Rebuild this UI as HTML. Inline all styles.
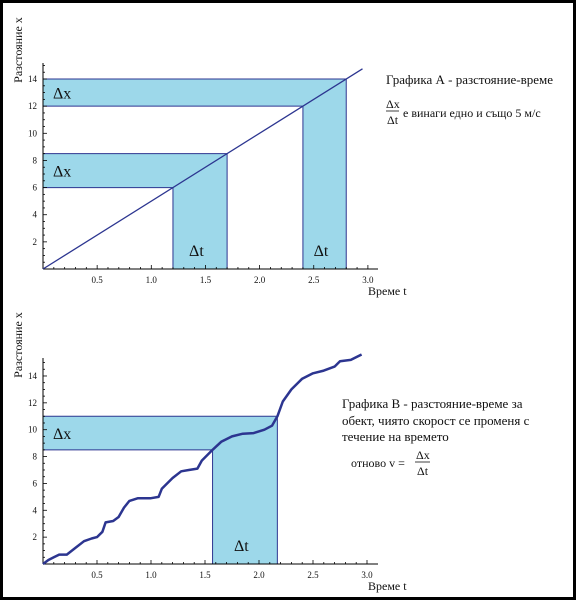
<!DOCTYPE html>
<html><head><meta charset="utf-8"><style>
html,body{margin:0;padding:0;background:#fff}
svg{display:block}
text{font-family:"Liberation Serif",serif;fill:#111}
.tick{font-size:9px}
</style></head><body>
<svg id="s" width="576" height="600" xmlns="http://www.w3.org/2000/svg">
<rect x="1.5" y="1.5" width="573" height="597" fill="#fff" stroke="#000" stroke-width="3"/>
<g id="A"></g>
<g id="B"></g>
<text x="386" y="84" font-size="13">Графика А - разстояние-време</text>
<text x="386" y="108" font-size="12">Δx</text>
<line x1="386" y1="111" x2="399" y2="111" stroke="#111" stroke-width="0.8"/>
<text x="387" y="124" font-size="12">Δt</text>
<text x="403" y="117" font-size="12">е винаги едно и също 5 м/с</text>
<text x="342" y="408" font-size="13">Графика В - разстояние-време за</text>
<text x="342" y="425" font-size="13">обект, чиято скорост се променя с</text>
<text x="342" y="441" font-size="13">течение на времето</text>
<text x="351" y="467" font-size="12">отново v =</text>
<text x="416" y="459" font-size="12">Δx</text>
<line x1="415" y1="462" x2="430" y2="462" stroke="#111" stroke-width="0.8"/>
<text x="417" y="475" font-size="12">Δt</text>
</svg>
<script>
const NS="http://www.w3.org/2000/svg";
const xTicks=[0.5,1.0,1.5,2.0,2.5,3.0];
const yTicks=[2,4,6,8,10,12,14];
const lineAT=[0,2.95];
const lineAX=[0,14.75];
const bandsA=[{t0:1.2,t1:1.7,x0:6,x1:8.5},{t0:2.4,t1:2.8,x0:12,x1:14}];
const curveBT=[0,0.05,0.1,0.15,0.22,0.3,0.38,0.45,0.5,0.55,0.58,0.65,0.7,0.75,0.8,0.88,1.0,1.07,1.1,1.2,1.28,1.35,1.43,1.47,1.57,1.65,1.75,1.85,1.95,2.05,2.12,2.17,2.22,2.3,2.4,2.5,2.6,2.7,2.75,2.85,2.95];
const curveBX=[0,0.3,0.5,0.7,0.7,1.2,1.7,1.9,2.0,2.4,3.1,3.2,3.5,4.2,4.7,4.9,4.9,5.0,5.6,6.4,6.9,7.0,7.1,7.7,8.5,9.1,9.5,9.7,9.75,10.0,10.3,11.0,12.1,13.0,13.8,14.2,14.4,14.7,15.1,15.2,15.6];
const bandsB=[{t0:1.57,t1:2.17,x0:8.5,x1:11}];

function el(p,tag,a,name,txt){const e=document.createElementNS(NS,tag);for(const k in a)e.setAttribute(k,a[k]);


if(txt!==undefined)e.textContent=txt;p.appendChild(e);return e;}

function chart(g,cfg){
  const sx=t=>cfg.ox+t*cfg.kx, sy=v=>cfg.oy-v*cfg.ky;
  cfg.bands.forEach((b,i)=>{
    const pts=[[cfg.ox,sy(b.x1)],[sx(b.t1),sy(b.x1)],[sx(b.t1),cfg.oy],[sx(b.t0),cfg.oy],[sx(b.t0),sy(b.x0)],[cfg.ox,sy(b.x0)]];
    el(g,'polygon',{points:pts.map(p=>p.join(',')).join(' '),fill:'#9dd8ea',stroke:'#2c3590','stroke-width':1},'delta-band-'+i);
    el(g,'text',{x:cfg.ox+10,y:(sy(b.x0)+sy(b.x1))/2+6,'font-size':16},'dx-label-'+i,'Δx');
    el(g,'text',{x:(sx(b.t0)+sx(b.t1))/2-11,y:cfg.oy-13,'font-size':16},'dt-label-'+i,'Δt');
  });
  el(g,'line',{x1:cfg.ox,y1:cfg.oy,x2:cfg.xEnd,y2:cfg.oy,stroke:'#000','stroke-width':1},'x-axis');
  el(g,'line',{x1:cfg.ox,y1:cfg.oy,x2:cfg.ox,y2:cfg.yTop,stroke:'#000','stroke-width':1},'y-axis');
  for(let i=1;i<=30;i++){const t=i*0.1,x=sx(t),maj=i%5==0;
    el(g,'line',{x1:x,y1:cfg.oy,x2:x,y2:cfg.oy-(maj?4:2),stroke:'#000','stroke-width':0.8},'x-tick');}
  for(let v=0.5;v<=15;v+=0.5){const y=sy(v),maj=v%2==0;
    el(g,'line',{x1:cfg.ox,y1:y,x2:cfg.ox+(maj?4:2),y2:y,stroke:'#000','stroke-width':0.8},'y-tick');}
  xTicks.forEach(t=>el(g,'text',{x:sx(t),y:cfg.oy+14,'text-anchor':'middle',class:'tick'},'x-tick-label',t.toFixed(1)));
  yTicks.forEach(v=>el(g,'text',{x:cfg.ox-6,y:sy(v)+3,'text-anchor':'end',class:'tick'},'y-tick-label',String(v)));
  el(g,'text',{x:cfg.ox+325,y:cfg.oy+26,'font-size':12},'x-axis-title','Време t');
  el(g,'text',{transform:`translate(22,${cfg.yLab}) rotate(-90)`,'font-size':12,'text-anchor':'middle'},'y-axis-title','Разстояние x');
  const d=cfg.T.map((t,i)=>(i?'L':'M')+sx(t).toFixed(1)+','+sy(cfg.X[i]).toFixed(1)).join(' ');
  el(g,'path',{d:d,fill:'none',stroke:'#2c3590','stroke-width':cfg.lw,'stroke-linejoin':'round'},'series-line');
}
chart(document.getElementById('A'),{ox:43,oy:269,kx:108.3,ky:13.57,xEnd:378,yTop:63,bands:bandsA,T:lineAT,X:lineAX,lw:1.3,yLab:50});
chart(document.getElementById('B'),{ox:43,oy:564,kx:108,ky:13.43,xEnd:378,yTop:358,bands:bandsB,T:curveBT,X:curveBX,lw:2.5,yLab:345});
</script>
</body></html>
